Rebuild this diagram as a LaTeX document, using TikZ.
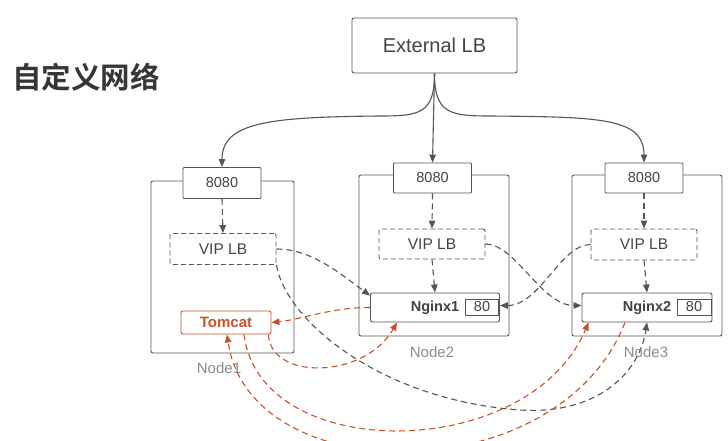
\documentclass[tikz,border=0pt]{standalone}
\usepackage{fontspec}
\setmainfont{Liberation Sans}
\newfontfamily\cjkbold{Noto Sans CJK SC Bold}
\usetikzlibrary{arrows.meta}
\definecolor{linegray}{HTML}{555555}
\definecolor{textgray}{HTML}{444444}
\definecolor{labelgray}{HTML}{8C8C8C}
\definecolor{rust}{HTML}{C8522A}
\begin{document}
\begin{tikzpicture}[
    x=1pt, y=-1pt,
    >={Triangle[length=8pt,width=6.5pt]},
    box/.style={draw=linegray,line width=0.9pt,rounded corners=2pt,fill=white,inner sep=0pt,text=textgray},
    host/.style={box,fill=none,minimum width=150pt,minimum height=161pt},
    port/.style={box,rounded corners=1pt,minimum width=78pt,minimum height=31pt,font=\fontsize{14.5}{16}\selectfont},
    vip/.style={box,dash pattern=on 5pt off 3pt,minimum width=106pt,minimum height=31pt,font=\fontsize{15.5}{17}\selectfont},
    nginx/.style={box,minimum width=129pt,minimum height=29pt,font=\bfseries\fontsize{14.5}{16}\selectfont},
    small/.style={box,rounded corners=0pt,minimum width=33pt,minimum height=16pt,font=\fontsize{14.5}{16}\selectfont},
    hostlabel/.style={text=labelgray,font=\fontsize{15}{17}\selectfont},
    link/.style={draw=linegray,line width=1.1pt,->},
    hop/.style={link,dash pattern=on 6pt off 4pt},
    back/.style={hop,draw=rust}]
    \useasboundingbox (0,0) rectangle (728,441);

    % Titel
    \node[text=textgray!80!black,font=\cjkbold\fontsize{29.5}{32}\selectfont] (title) at (86,77) {自定义网络};

    % Hosts
    \node[host,minimum width=143pt,minimum height=172pt] (host1) at (222.5,267) {};
    \node[host] (host2) at (434,255.5) {};
    \node[host] (host3) at (647,255.5) {};
    \node[hostlabel] (label1) at (219,368) {Node1};
    \node[hostlabel] (label2) at (432,352) {Node2};
    \node[hostlabel] (label3) at (646,352) {Node3};

    % Boxen
    \node[box,minimum width=165pt,minimum height=55pt,font=\fontsize{20}{22}\selectfont] (ext) at (434.5,45.5) {External LB};
    \node[port] (p1) at (222,183) {8080};
    \node[port,minimum height=30pt] (p2) at (432.5,178) {8080};
    \node[port,minimum height=30pt] (p3) at (644,178) {8080};
    \node[vip] (vip1) at (223,249) {VIP LB};
    \node[vip,minimum height=30pt] (vip2) at (432,244) {VIP LB};
    \node[vip] (vip3) at (644,244.5) {VIP LB};
    \node[box,draw=rust,text=rust,minimum width=90pt,minimum height=23pt,font=\bfseries\fontsize{15}{16}\selectfont] (tomcat) at (226,322.5) {Tomcat};
    \node[nginx] (ng1) at (435,307.5) {Nginx1};
    \node[small] (ng1port) at (482,307) {80};
    \node[nginx,minimum width=130pt] (ng2) at (647,307.5) {Nginx2};
    \node[small,minimum width=34pt] (ng2port) at (694,307) {80};

    % External LB
    \draw[link] (ext.south) .. controls +(0,40) and +(40,0) .. (380,116)
                .. controls +(-110,1) and +(0,-45) .. (p1.north);
    \draw[link] (ext.south) -- (p2.north);
    \draw[link] (ext.south) .. controls +(0,40) and +(-40,0) .. (490,116)
                .. controls +(110,1) and +(0,-45) .. (p3.north);

    % innen
    \draw[hop] (p1.south) -- (vip1.north);
    \draw[hop] (p2.south) -- (vip2.north);
    \draw[hop] (p3.south) -- (vip3.north);
    \draw[hop] (vip2.south) -- (ng1.north);
    \draw[hop] (vip3.south) -- (ng2.north);

    % VIP LB
    \draw[hop] (vip1.east) .. controls +(35,0) and +(-30,-22) .. ([yshift=-3pt]ng1.north west);
    \draw[hop] (vip1.south east) .. controls +(9,55) and +(-140,-10) .. (520,410)
               .. controls +(80,5) and +(-7,48) .. (ng2.south);
    \draw[hop] (vip2.east) .. controls +(30,0) and +(-40,0) .. ([yshift=2pt]ng2.west);
    \draw[hop] (vip3.west) .. controls +(-30,0) and +(40,0) .. ([yshift=2pt]ng1.east);

    % Tomcat
    \draw[back] (ng1.west) .. controls +(-40,0) and +(30,-3) .. (tomcat.east);
    \draw[back] ([xshift=-3pt]tomcat.south east) .. controls +(2,46) and +(-33,57) .. ([xshift=27pt]ng1.south west);
    \draw[back] ([xshift=18pt]tomcat.south) .. controls +(16,130) and +(-60,141) .. ([xshift=7pt]ng2.south west);
    \draw[back] ([xshift=-22pt]ng2.south) .. controls +(-66,169) and +(23,157) .. ([xshift=1pt]tomcat.south);
\end{tikzpicture}
\end{document}
